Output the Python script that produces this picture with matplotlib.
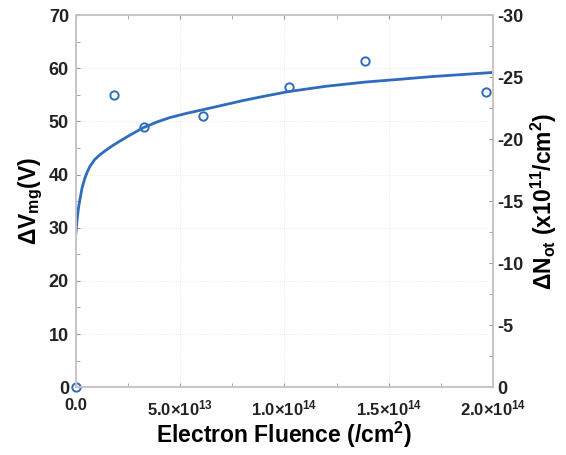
import matplotlib
matplotlib.use("Agg")
from matplotlib import pyplot as plt
from matplotlib.ticker import MultipleLocator, FixedLocator

plt.rcParams["font.family"] = ["Liberation Sans", "DejaVu Sans"]
plt.rcParams["font.weight"] = "bold"
plt.rcParams["axes.unicode_minus"] = False
plt.rcParams["mathtext.fontset"] = "custom"
plt.rcParams["mathtext.rm"] = "Liberation Sans:bold"
plt.rcParams["mathtext.it"] = "Liberation Sans:bold"
plt.rcParams["mathtext.bf"] = "Liberation Sans:bold"
plt.rcParams["mathtext.default"] = "rm"

# measured points
fluence = [0.0, 1.82e13, 3.26e13, 6.1e13, 1.02e14, 1.386e14, 1.965e14]
delta_v = [0.0, 55.0, 48.9, 51.0, 56.5, 61.3, 55.6]

# fitted curve
fit_fluence = [0.0, 6e11, 1.2e12, 1.9e12, 3.0e12, 4.3e12, 5.5e12, 6.7e12,
               9.0e12, 1.15e13, 1.45e13, 1.79e13, 2.2e13, 2.59e13, 3.23e13,
               3.9e13, 4.5e13, 5.3e13, 6.1e13, 7.0e13, 8.0e13, 9.0e13,
               1.02e14, 1.2e14, 1.39e14, 1.55e14, 1.7e14, 1.85e14, 2.0e14]
fit_delta_v = [28.9, 31.5, 33.6, 35.2, 37.5, 39.3, 40.5, 41.5,
               42.8, 43.7, 44.6, 45.5, 46.5, 47.4, 48.8,
               49.9, 50.7, 51.5, 52.2, 53.0, 53.9, 54.7,
               55.6, 56.6, 57.4, 57.9, 58.4, 58.8, 59.2]

x_ticks = [0.0, 5.0e13, 1.0e14, 1.5e14, 2.0e14]
x_tick_labels = ["0.0", r"5.0×10$^{13}$", r"1.0×10$^{14}$",
                 r"1.5×10$^{14}$", r"2.0×10$^{14}$"]

blue = "#2f6cbd"
spine_color = "#c9c3c3"

fig = plt.figure(figsize=(5.66, 4.55), dpi=100)
axis = fig.add_axes([0.134, 0.149, 0.737, 0.818])

axis.plot(fit_fluence, fit_delta_v, color=blue, linewidth=2)
axis.plot(fluence, delta_v, linestyle="none", marker="o", markersize=6,
          markerfacecolor="none", markeredgecolor=blue, markeredgewidth=1.4,
          clip_on=False)

axis.set_xlim(0, 2.0e14)
axis.set_ylim(0, 70)
axis.xaxis.set_major_locator(FixedLocator(x_ticks))
axis.set_xticklabels(x_tick_labels)
axis.xaxis.set_minor_locator(MultipleLocator(2.5e13))
axis.yaxis.set_major_locator(MultipleLocator(10))
axis.yaxis.set_minor_locator(MultipleLocator(5))
axis.grid(True, which="major", color="#e4e4e4", linewidth=0.6, linestyle=":")

axis.tick_params(which="both", direction="in", top=True, colors="#999999",
                 labelcolor="#222222", length=3)
axis.tick_params(axis="x", labelsize=12, pad=8)
axis.tick_params(axis="y", labelsize=13, right=False, pad=5)

axis.set_xlabel("Electron Fluence (/cm$^{2}$)", fontsize=16.5,
                fontweight="bold", labelpad=1)
axis.set_ylabel("ΔV$_{mg}$(V)", fontsize=16.5, fontweight="bold", labelpad=3)

axis2 = axis.twinx()
axis2.set_ylim(0, -30)
axis2.yaxis.set_major_locator(MultipleLocator(5))
axis2.yaxis.set_minor_locator(MultipleLocator(2.5))
axis2.tick_params(which="both", direction="in", colors="#999999",
                  labelcolor="#222222", labelsize=13, length=3, pad=3)
axis2.set_ylabel("ΔN$_{ot}$ (x10$^{11}$/cm$^{2}$)", fontsize=16.5,
                 fontweight="bold", labelpad=4)

for ax in (axis, axis2):
    for spine in ax.spines.values():
        spine.set_color(spine_color)
        spine.set_linewidth(1.2)

fig.savefig("out.png", dpi=100)
